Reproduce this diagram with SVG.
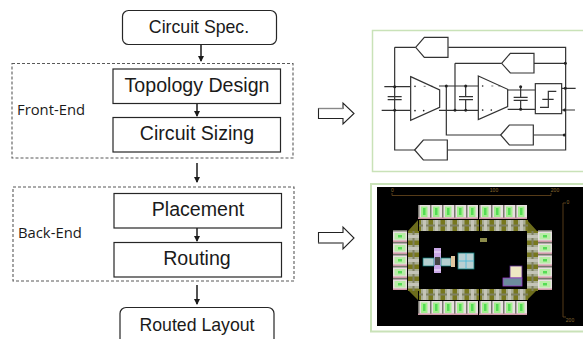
<svg xmlns="http://www.w3.org/2000/svg" width="583" height="339" viewBox="0 0 583 339">
<style>
.b{fill:#fff;stroke:#262626;stroke-width:1.2}
.d{fill:none;stroke:#595959;stroke-width:1.1;stroke-dasharray:3 2}
.t{font-family:"Liberation Sans",Arial,sans-serif;font-size:19.6px;fill:#1a1a1a;text-anchor:middle}
.r{font-size:17.7px}
.l{font-family:"Open Sans","Noto Sans",sans-serif;font-size:14.8px;fill:#1a1a1a}
.c{fill:none;stroke:#1a1a1a;stroke-width:1.5}
.h{fill:#fff;stroke:#222;stroke-width:1.1}
.p{fill:none;stroke:#c9e2b8;stroke-width:1.5}
.s{fill:none;stroke:#333;stroke-width:3.6}
.g{fill:#fff;stroke:#333;stroke-width:3.6}
.n{fill:#222}
.u{font-family:"Liberation Sans",Arial,sans-serif;font-size:5px;fill:#8a6a30;text-anchor:middle}
</style>
<defs>
<marker id="a" markerWidth="7" markerHeight="6" refX="5" refY="3" orient="auto" markerUnits="userSpaceOnUse"><path d="M0 0L6 3L0 6z" fill="#1a1a1a"/></marker>
<g id="pad"><rect width="12" height="14" fill="#e8dfe0"/><rect y="0" width="1.5" height="14" fill="#77776f"/><rect x="3" y="1.5" width="6.5" height="10.5" fill="#a2ee8e"/><rect x="5" y="3" width="2.5" height="7" fill="#54dc54"/><rect y="12.5" width="12" height="1.5" fill="#cf9aa8"/></g>
<g id="cell"><rect width="12" height="11" fill="#77771e"/><rect x="2" width="7.5" height="11" fill="#a9ad95"/><rect y="4.5" width="12" height="2" fill="#7f8062"/><rect x="4" y="0" width="3" height="11" fill="#c4c4b8"/></g>
<g id="padh"><rect width="14" height="12" fill="#e8dfe0"/><rect width="14" height="1.5" fill="#77776f"/><rect x="1.5" y="3" width="11" height="6.5" fill="#b8eda6"/><rect x="5" y="5" width="4" height="2.5" fill="#54dc54"/><rect y="10.500" width="14" height="1.5" fill="#cf9aa8"/></g>
<g id="cellh"><rect width="11" height="12" fill="#77771e"/><rect y="2" width="11" height="7.5" fill="#a9ad95"/><rect x="4.5" width="2" height="12" fill="#7f8062"/><rect y="4" width="11" height="3" fill="#c4c4b8"/></g>
</defs>

<g id="connectors">
<path class="c" d="M201 45V61" marker-end="url(#a)"/>
<path class="c" d="M197 103V116" marker-end="url(#a)"/>
<path class="c" d="M197 163V182" marker-end="url(#a)"/>
<path class="c" d="M197 228V241" marker-end="url(#a)"/>
<path class="c" d="M197 285V304" marker-end="url(#a)"/>
</g>

<g id="front-end"><rect class="d" x="12" y="63.500" width="281" height="94.500"/><text class="l" x="17" y="114.500">Front-End</text></g>
<g id="back-end"><rect class="d" x="13" y="187" width="281" height="94"/><text class="l" x="18" y="237.500">Back-End</text></g>
<g id="circuit-spec"><rect class="b" x="122.500" y="10.500" width="154" height="34" rx="6"/><text class="t r" x="199" y="32.700">Circuit Spec.</text></g>
<g id="topology-design"><rect class="b" x="113" y="69" width="167.500" height="34.500"/><text class="t" x="197" y="92">Topology Design</text></g>
<g id="circuit-sizing"><rect class="b" x="113" y="117.500" width="167.500" height="34.500"/><text class="t" x="197" y="140">Circuit Sizing</text></g>
<g id="placement"><rect class="b" x="114" y="193.500" width="167.500" height="34.500"/><text class="t" x="198" y="216">Placement</text></g>
<g id="routing"><rect class="b" x="114" y="242.500" width="167.500" height="34.500"/><text class="t" x="197" y="265">Routing</text></g>
<g id="routed-layout"><rect class="b" x="120" y="307.500" width="154" height="40" rx="6"/><text class="t r" x="197" y="331">Routed Layout</text></g>

<g id="arrow-1"><path class="h" d="M318.500 108.500H343V103L354 113.500L343 124V118.500H318.500z"/><path d="M318.500 108.500H343" stroke="#888" stroke-width="1.400"/></g>
<g id="arrow-2"><path class="h" d="M318.500 232.500H343V227L354 238L343 249V243H318.500z"/><path d="M318.500 243H343" stroke="#888" stroke-width="1.400"/></g>

<g id="circuit-panel">
<path class="p" d="M583 30.500H372.500V171.500H583"/>
<g transform="translate(365 20) scale(.3333)">
<path class="s" d="M58 200H135M50 271H135M222 198H340M222 271H340M428 210H510M428 268H510M590 205H632M590 270H630"/>
<path class="s" d="M89 200V390H150M89 82H152M89 82V200M250 82H602V390H247M270 130H410M270 130V271M507 130H602M244 198V345H407M505 345H600"/>
<path class="g" d="M137 170L224 210V262L137 301z"/>
<path class="g" d="M340 168L428 208V260L340 299z"/>
<rect class="g" x="511" y="191" width="79" height="90"/>
<path class="s" d="M525 262H550V214H574M532 238H566"/>
<path class="g" d="M152 82L178 52H249V112H178z"/>
<path class="g" d="M410 130L436 100H507V159H436z"/>
<path class="g" d="M407 345L433 315H505V375H433z"/>
<path class="g" d="M149 390L175 360H247V420H175z"/>
<path class="s" d="M68 230H110M68 239H110M282 230H324M282 239H324M446 232H488M446 241H488"/>
<path class="s" d="M302 198V230M302 239V271M467 200V232M467 241V268"/>
<g class="n"><circle cx="89" cy="200" r="4.500"/><circle cx="89" cy="271" r="4.500"/><circle cx="244" cy="198" r="4.500"/><circle cx="270" cy="271" r="4.500"/><circle cx="302" cy="198" r="4.500"/><circle cx="302" cy="271" r="4.500"/><circle cx="467" cy="200" r="4.500"/><circle cx="467" cy="268" r="4.500"/><circle cx="601" cy="130" r="4.500"/><circle cx="601" cy="205" r="4.500"/><circle cx="599" cy="270" r="4.500"/><circle cx="598" cy="345" r="4.500"/><circle cx="150" cy="199" r="2.500"/><circle cx="150" cy="272" r="2.500"/><circle cx="176" cy="272" r="2.500"/><circle cx="353" cy="198" r="2.500"/><circle cx="353" cy="270" r="2.500"/><circle cx="379" cy="270" r="2.500"/></g>
<path d="M176 199H182M198 199H204M379 198H385M400 198H406" class="s" style="stroke-width:2"/>
</g>
</g>

<g id="layout-panel">
<path class="p" d="M583 184H371V331.500H583" style="stroke-width:2"/>
<rect x="377" y="187" width="206" height="139" fill="#000"/>
<path d="M392 193V195.500H551V193M566 203H563V317H566" fill="none" stroke="#6b4a1e" stroke-width=".8"/>
<text class="u" x="392.500" y="192">0</text><text class="u" x="494" y="192">100</text><text class="u" x="555" y="192">200</text><text class="u" x="568" y="204">0</text><text class="u" x="570" y="322">200</text>
<path d="M418 220L408 231H418zM527 220L537 231H527zM418 300L408 290H418zM527 300L537 290H527z" fill="#6c6c1c"/>
<g>
<use href="#pad" transform="translate(418 205)"/><use href="#pad" transform="translate(430 205)"/><use href="#pad" transform="translate(442 205)"/><use href="#pad" transform="translate(454 205)"/><use href="#pad" transform="translate(466 205)"/><use href="#pad" transform="translate(479 205)"/><use href="#pad" transform="translate(491 205)"/><use href="#pad" transform="translate(503 205)"/><use href="#pad" transform="translate(515 205)"/>
<use href="#pad" transform="translate(418 301)"/><use href="#pad" transform="translate(430 301)"/><use href="#pad" transform="translate(442 301)"/><use href="#pad" transform="translate(454 301)"/><use href="#pad" transform="translate(466 301)"/><use href="#pad" transform="translate(479 301)"/><use href="#pad" transform="translate(491 301)"/><use href="#pad" transform="translate(503 301)"/><use href="#pad" transform="translate(515 301)"/>
<use href="#padh" transform="translate(393 230)"/><use href="#padh" transform="translate(393 242)"/><use href="#padh" transform="translate(393 254)"/><use href="#padh" transform="translate(393 266)"/><use href="#padh" transform="translate(393 278)"/>
<use href="#padh" transform="translate(538 230)"/><use href="#padh" transform="translate(538 242)"/><use href="#padh" transform="translate(538 254)"/><use href="#padh" transform="translate(538 266)"/><use href="#padh" transform="translate(538 278)"/>
<use href="#cell" transform="translate(419 220)"/><use href="#cell" transform="translate(431 220)"/><use href="#cell" transform="translate(443 220)"/><use href="#cell" transform="translate(455 220)"/><use href="#cell" transform="translate(467 220)"/><use href="#cell" transform="translate(480 220)"/><use href="#cell" transform="translate(492 220)"/><use href="#cell" transform="translate(504 220)"/><use href="#cell" transform="translate(516 220)"/>
<use href="#cell" transform="translate(419 289)"/><use href="#cell" transform="translate(431 289)"/><use href="#cell" transform="translate(443 289)"/><use href="#cell" transform="translate(455 289)"/><use href="#cell" transform="translate(467 289)"/><use href="#cell" transform="translate(480 289)"/><use href="#cell" transform="translate(492 289)"/><use href="#cell" transform="translate(504 289)"/><use href="#cell" transform="translate(516 289)"/>
<use href="#cellh" transform="translate(408 231)"/><use href="#cellh" transform="translate(408 243)"/><use href="#cellh" transform="translate(408 255)"/><use href="#cellh" transform="translate(408 267)"/><use href="#cellh" transform="translate(408 279)"/>
<use href="#cellh" transform="translate(527 231)"/><use href="#cellh" transform="translate(527 243)"/><use href="#cellh" transform="translate(527 255)"/><use href="#cellh" transform="translate(527 267)"/><use href="#cellh" transform="translate(527 279)"/>
</g>
<rect x="480" y="238" width="7" height="4" fill="#8b8b4a"/>
<rect x="434" y="248" width="7" height="25" fill="#c9a8e6"/><path d="M434 252H441M434 270H441" stroke="#fff" stroke-width=".7"/><rect x="435" y="257" width="5" height="8" fill="#444"/>
<rect x="423" y="258" width="11" height="8" fill="#b5cfcf" stroke="#0a7a7a" stroke-width=".7"/>
<rect x="441" y="258" width="10" height="8" fill="#b5cfcf" stroke="#0a7a7a" stroke-width=".7"/>
<rect x="451" y="256" width="4" height="11" fill="#e0c6a0"/>
<rect x="458" y="253" width="16" height="16" fill="#b9cfd2" stroke="#0a7a7a" stroke-width=".8"/>
<path d="M466 253V269M458 261H474" stroke="#3fb8d8" stroke-width=".8"/>
<rect x="510" y="266" width="12" height="12" fill="#eee8c4" stroke="#5a2a8a" stroke-width=".8"/>
<rect x="503" y="278" width="19" height="8" fill="#6c8c9c" stroke="#9a3ac8" stroke-width=".8"/>
</g>
</svg>
